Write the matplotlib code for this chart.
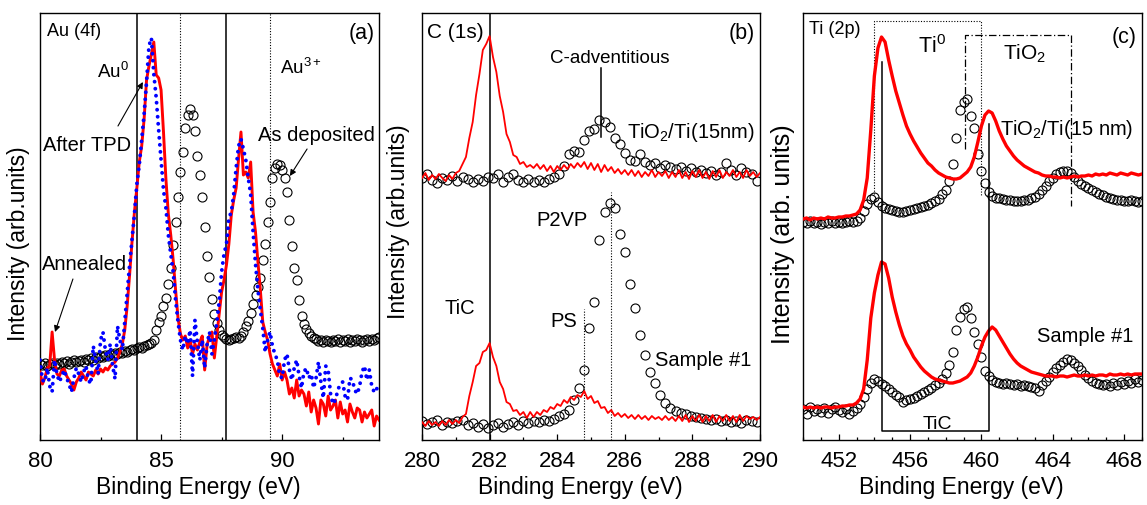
import numpy as np
import matplotlib
matplotlib.use("Agg")
import matplotlib.pyplot as plt
from matplotlib.ticker import MultipleLocator

plt.rcParams["font.family"] = ["Liberation Sans", "DejaVu Sans"]
plt.rcParams["mathtext.fontset"] = "custom"
plt.rcParams["mathtext.rm"] = "Liberation Sans"
plt.rcParams["mathtext.it"] = "Liberation Sans:italic"
plt.rcParams["mathtext.bf"] = "Liberation Sans:bold"

RED, BLUE = "#ff0000", "#0000ff"

# ---------------------------------------------------------------
# (a) Au 4f  -- 80.0 .. 94.0 eV, 0.1 eV step
# ---------------------------------------------------------------
AU_E0, AU_STEP = 80.0, 0.1
au_annealed = [
    68, 56, 62, 72, 74, 108, 80, 66, 64, 70,
    71, 64, 60, 56, 50, 58, 62, 68, 64, 60,
    68, 66, 64, 70, 66, 71, 68, 72, 70, 74,
    76, 78, 82, 88, 96, 110, 134, 165, 198, 228,
    252, 278, 294, 321, 360, 374, 386, 398, 365, 362,
    350, 308, 261, 226, 205, 180, 150, 122, 106, 100,
    104, 92, 100, 86, 96, 90, 98, 104, 70, 95,
    104, 108, 82, 104, 126, 148, 160, 175, 196, 225,
    240, 252, 281, 308, 265, 268, 262, 278, 228, 208,
    178, 150, 118, 108, 100, 86, 76, 70, 64, 76,
    60, 68, 60, 46, 52, 42, 60, 44, 50, 46,
    34, 48, 28, 40, 32, 16, 40, 36, 24, 44,
    30, 34, 40, 22, 38, 26, 30, 18, 36, 28,
    22, 32, 30, 18, 28, 22, 26, 30, 14, 24,
    20]
au_after_tpd = [
    80, 60, 58, 72, 54, 48, 80, 66, 58, 64,
    70, 62, 56, 48, 62, 72, 66, 58, 68, 74,
    60, 56, 94, 80, 66, 100, 108, 90, 80, 96,
    74, 61, 114, 100, 90, 118, 145, 175, 200, 226,
    256, 275, 300, 326, 358, 394, 402, 366, 342, 310,
    280, 250, 232, 205, 186, 168, 140, 118, 100, 90,
    104, 96, 110, 64, 120, 98, 80, 100, 72, 96,
    108, 86, 100, 118, 138, 168, 186, 196, 222, 228,
    246, 272, 294, 301, 291, 280, 262, 246, 208, 176,
    150, 130, 112, 88, 100, 108, 94, 86, 80, 64,
    62, 80, 86, 70, 60, 72, 80, 64, 52, 68,
    72, 62, 66, 52, 62, 78, 58, 42, 74, 70,
    46, 36, 40, 50, 56, 58, 44, 40, 62, 60,
    50, 46, 54, 68, 74, 60, 70, 54, 48, 52,
    46]
au_as_deposited = [
    76, 75, 77, 74, 76, 77, 75, 77, 76, 78,
    77, 79, 76, 78, 80, 78, 79, 80, 78, 81,
    80, 82, 80, 83, 82, 84, 83, 85, 84, 86,
    85, 87, 86, 88, 87, 89, 88, 90, 91, 90,
    92, 93, 92, 94, 95, 96, 97, 100, 110, 118,
    124, 134, 142, 156, 172, 195, 218, 243, 268, 288,
    312, 325, 331, 325, 309, 284, 265, 243, 213, 184,
    163, 141, 126, 117, 110, 105, 103, 101, 100, 101,
    102, 103, 102, 104, 108, 114, 119, 127, 136, 145,
    153, 162, 180, 196, 218, 238, 262, 272, 276, 275,
    270, 262, 248, 220, 194, 172, 160, 140, 124, 116,
    111, 107, 104, 102, 101, 99, 100, 98, 100, 99,
    98, 100, 99, 101, 98, 100, 99, 101, 98, 100,
    99, 101, 100, 98, 100, 101, 99, 101, 100, 102,
    103]
au_solid_lines = [84.0, 87.7]
au_dotted_lines = [85.8, 89.5]

# ---------------------------------------------------------------
# (b) C 1s  -- 280 .. 290 eV; lines 0.1 eV, circles 0.15 eV
# ---------------------------------------------------------------
C_E0, C_LINE_STEP, C_CIRC_STEP = 280.0, 0.1, 0.15
c_tio2_line = [
    262, 267, 260, 265, 261, 266, 262, 259, 265, 261,
    267, 269, 276, 283, 302, 318, 345, 366, 390, 396,
    404, 383, 368, 344, 328, 306, 298, 285, 283, 276,
    278, 273, 275, 272, 276, 271, 275, 269, 274, 268,
    274, 270, 275, 271, 276, 272, 277, 273, 278, 271,
    277, 270, 276, 268, 275, 269, 273, 267, 271, 266,
    270, 265, 270, 264, 269, 263, 268, 264, 270, 263,
    268, 264, 269, 262, 268, 263, 270, 262, 268, 261,
    269, 263, 270, 262, 268, 261, 269, 263, 270, 262,
    268, 264, 270, 263, 268, 262, 270, 264, 268, 263,
    267]
c_tio2_circ = [
    262, 266, 260, 257, 262, 260, 264, 259, 263, 261,
    258, 261, 259, 263, 262, 266, 258, 263, 266, 260,
    258, 261, 258, 260, 258, 261, 263, 266, 274, 286,
    289, 288, 300, 309, 311, 320, 318, 313, 302, 296,
    287, 280, 279, 286, 278, 275, 277, 272, 275, 273,
    271, 273, 269, 272, 268, 270, 267, 269, 265, 268,
    277, 270, 265, 272, 268, 266, 259]
c_sample_line = [
    18, 14, 19, 15, 18, 14, 19, 15, 20, 16,
    20, 17, 23, 26, 44, 58, 74, 77, 88, 90,
    97, 83, 74, 58, 51, 38, 36, 29, 30, 25,
    28, 22, 28, 23, 28, 25, 30, 28, 33, 31,
    36, 34, 40, 37, 43, 40, 45, 43, 49, 41,
    44, 37, 39, 32, 33, 27, 30, 24, 27, 23,
    26, 22, 25, 21, 25, 21, 24, 20, 24, 21,
    23, 20, 24, 20, 23, 19, 24, 19, 25, 18,
    24, 19, 25, 18, 24, 19, 25, 18, 24, 19,
    25, 19, 24, 18, 25, 19, 24, 21, 23, 20,
    23]
c_sample_circ = [
    19, 16, 18, 20, 15, 18, 17, 19, 20, 15,
    17, 13, 16, 12, 15, 17, 13, 16, 18, 15,
    19, 17, 19, 18, 20, 19, 21, 24, 26, 30,
    40, 52, 70, 112, 138, 200, 228, 237, 232, 206,
    188, 156, 132, 105, 85, 68, 57, 45, 37, 32,
    29, 27, 26, 24, 23, 22, 21, 20, 21, 19,
    20, 18, 19, 17, 20, 19, 18]

# ---------------------------------------------------------------
# (c) Ti 2p  -- 450 .. 469 eV, 0.2 eV step
# ---------------------------------------------------------------
TI_E0, TI_STEP = 450.0, 0.2
ti_tio2_line = [
    221, 222, 220, 222, 221, 222, 221, 223, 222, 222,
    223, 223, 224, 224, 225, 226, 230, 240, 262, 310,
    364, 392, 403, 398, 380, 364, 349, 337, 325, 314,
    306, 299, 293, 287, 282, 277, 274, 270, 267, 265,
    263, 262, 261, 261, 262, 265, 268, 273, 283, 298,
    314, 325, 329, 327, 319, 309, 301, 294, 289, 284,
    280, 277, 274, 272, 270, 268, 267, 265, 264, 264,
    263, 263, 262, 263, 262, 263, 264, 263, 264, 264,
    265, 264, 266, 265, 266, 265, 267, 266, 265, 267,
    266, 265, 267, 266, 265, 266]
ti_tio2_circ = [
    218, 217, 219, 217, 218, 216, 218, 217, 219, 217,
    218, 217, 218, 219, 218, 219, 222, 229, 236, 241,
    243, 238, 234, 232, 231, 230, 229, 228, 228, 229,
    230, 231, 232, 233, 234, 235, 237, 239, 241, 246,
    250, 259, 276, 302, 330, 338, 341, 324, 312, 286,
    269, 257, 248, 244, 242, 242, 241, 240, 240, 239,
    239, 239, 240, 240, 242, 243, 246, 250, 254, 259,
    262, 266, 268, 269, 269, 267, 263, 259, 256, 254,
    252, 250, 248, 246, 245, 243, 242, 241, 240, 240,
    239, 239, 240, 239, 238, 239]
ti_sample_line = [
    33, 32, 33, 32, 33, 32, 33, 33, 32, 33,
    33, 34, 34, 35, 35, 37, 41, 51, 80, 122,
    147, 165, 178, 176, 162, 143, 128, 115, 104, 96,
    90, 83, 78, 73, 69, 66, 63, 61, 60, 59,
    58, 57, 57, 58, 59, 61, 63, 67, 74, 83,
    94, 103, 109, 113, 110, 104, 98, 92, 86, 81,
    77, 74, 72, 70, 68, 67, 66, 65, 64, 64,
    64, 63, 64, 64, 63, 64, 65, 64, 64, 65,
    64, 65, 64, 65, 65, 64, 66, 65, 65, 66,
    65, 66, 65, 66, 66, 66]
ti_sample_circ = [
    31, 26, 33, 29, 31, 28, 32, 27, 31, 33,
    30, 28, 31, 26, 29, 32, 36, 43, 51, 57,
    61, 59, 56, 54, 51, 48, 45, 43, 38, 40,
    41, 42, 44, 46, 48, 50, 52, 55, 57, 61,
    67, 75, 88, 110, 123, 131, 133, 122, 108, 96,
    83, 69, 64, 60, 58, 57, 56, 57, 56, 55,
    56, 54, 55, 54, 53, 52, 49, 55, 59, 63,
    68, 72, 75, 78, 81, 80, 77, 74, 70, 65,
    62, 59, 57, 56, 55, 56, 54, 57, 55, 58,
    56, 59, 57, 61, 58, 60]

# guide boxes in (c): energies and heights of the drawn frames
ti0_box_e = [454.0, 460.0]
ti0_box_top, ti0_box_ends = 419, [246, 244]
tio2_box_e = [459.1, 465.0]
tio2_box_top, tio2_box_ends = 405, [291, 234]
tic_box_e = [454.4, 460.4]
tic_box_bottom, tic_box_ends = 9, [378, 316]

YMAX = 427


def energies(e0, step, vals):
    return e0 + step * np.arange(len(vals))


def circles(ax, x, y, ms=6.5):
    ax.plot(x, y, "o", mfc="none", mec="black", ms=ms, mew=0.8, zorder=2)


def style_axes(ax, xlim, major, minor, ylabel, lab_x, lab_y, ysize=16.5):
    ax.set_xlim(*xlim)
    ax.set_ylim(0, YMAX)
    ax.xaxis.set_major_locator(MultipleLocator(major))
    ax.xaxis.set_minor_locator(MultipleLocator(minor))
    ax.set_yticks([])
    ax.tick_params(axis="x", which="both", direction="in", labelsize=16, pad=7)
    ax.tick_params(axis="x", which="major", length=4.5, width=0.9)
    ax.tick_params(axis="x", which="minor", length=2.5, width=0.9)
    for s in ax.spines.values():
        s.set_linewidth(1.0)
    ax.set_xlabel("Binding Energy (eV)", fontsize=16.5)
    ax.xaxis.set_label_coords(0.4675, -0.083)
    ax.set_ylabel(ylabel, fontsize=ysize)
    ax.yaxis.set_label_coords(lab_x, lab_y)


fig = plt.figure(figsize=(11.47, 5.06), dpi=100)
W, H = 1147, 506
ax_a = fig.add_axes([40 / W, 65 / H, 339 / W, 427 / H])
ax_b = fig.add_axes([422 / W, 65 / H, 338 / W, 427 / H])
ax_c = fig.add_axes([803 / W, 65 / H, 339 / W, 427 / H])

TXT = 14.5

# ---------------- (a) ----------------
ax = ax_a
xa = energies(AU_E0, AU_STEP, au_as_deposited)
for e in au_solid_lines:
    ax.axvline(e, color="black", lw=1.1, zorder=1)
for e in au_dotted_lines:
    ax.axvline(e, color="black", lw=0.8, ls=(0, (1, 1.5)), zorder=1)
circles(ax, xa, au_as_deposited, ms=6.5)
ax.plot(energies(AU_E0, AU_STEP, au_annealed), au_annealed, color=RED, lw=2.1, zorder=3)
ax.plot(energies(AU_E0, AU_STEP, au_after_tpd), au_after_tpd, color=BLUE, lw=2.8,
        ls=(0, (0.01, 1.8)), dash_capstyle="round", zorder=4)
style_axes(ax, (80, 94), 5, 2.5, "Intensity (arb.units)", -0.029, 0.461)
ax.text(80.29, 409, "Au (4f)", fontsize=13, va="center")
ax.text(93.83, 408, "(a)", fontsize=15.5, va="center", ha="right")
ax.text(82.35, 363, r"Au$^\mathregular{0}$", fontsize=13.5)
ax.text(89.91, 367, r"Au$^\mathregular{3+}$", fontsize=13.5)
arrow = dict(arrowstyle="-|>", color="black", lw=0.8, mutation_scale=9, shrinkA=0, shrinkB=0)
ax.annotate("", xy=(84.25, 358), xytext=(83.22, 314), arrowprops=arrow)
ax.text(80.12, 290, "After TPD", fontsize=TXT)
ax.annotate("", xy=(90.32, 264), xytext=(91.03, 291), arrowprops=arrow)
ax.text(89.0, 300, "As deposited", fontsize=TXT)
ax.annotate("", xy=(80.62, 108), xytext=(81.36, 161), arrowprops=arrow)
ax.text(80.08, 171, "Annealed", fontsize=TXT)

# ---------------- (b) ----------------
ax = ax_b
ax.axvline(282.0, color="black", lw=1.1, zorder=1)
ax.plot([284.8, 284.8], [0, 131], color="black", lw=0.8, ls=(0, (1, 1.5)), zorder=1)
ax.plot([285.6, 285.6], [0, 248], color="black", lw=0.8, ls=(0, (1, 1.5)), zorder=1)
ax.plot([285.3, 285.3], [303, 372], color="black", lw=1.1, zorder=5)
circles(ax, energies(C_E0, C_CIRC_STEP, c_tio2_circ), c_tio2_circ)
circles(ax, energies(C_E0, C_CIRC_STEP, c_sample_circ), c_sample_circ)
ax.plot(energies(C_E0, C_LINE_STEP, c_tio2_line), c_tio2_line, color=RED, lw=1.3, zorder=3)
ax.plot(energies(C_E0, C_LINE_STEP, c_sample_line), c_sample_line, color=RED, lw=1.3, zorder=3)
style_axes(ax, (280, 290), 2, 1, "Intensity (arb.units)", -0.036, 0.513)
ax.text(280.15, 408, "C (1s)", fontsize=15, va="center")
ax.text(289.85, 408, "(b)", fontsize=15.5, va="center", ha="right")
ax.text(285.56, 378, "C-adventitious", fontsize=13.5, ha="center")
ax.text(286.06, 303, r"TiO$_\mathregular{2}$/Ti(15nm)", fontsize=TXT)
ax.text(283.39, 215, "P2VP", fontsize=TXT)
ax.text(280.68, 127, "TiC", fontsize=TXT)
ax.text(283.79, 114, "PS", fontsize=TXT)
ax.text(286.89, 75, "Sample #1", fontsize=TXT)

# ---------------- (c) ----------------
ax = ax_c
dot = dict(color="black", lw=0.8, ls=(0, (1, 1.5)), zorder=1)
ax.plot([ti0_box_e[0], ti0_box_e[0], ti0_box_e[1], ti0_box_e[1]],
        [ti0_box_ends[0], ti0_box_top, ti0_box_top, ti0_box_ends[1]], **dot)
ax.plot([tio2_box_e[0], tio2_box_e[0], tio2_box_e[1], tio2_box_e[1]],
        [tio2_box_ends[0], tio2_box_top, tio2_box_top, tio2_box_ends[1]],
        color="black", lw=0.9, ls=(0, (6, 2, 1, 2)), zorder=1)
ax.plot([tic_box_e[0], tic_box_e[0], tic_box_e[1], tic_box_e[1]],
        [tic_box_ends[0], tic_box_bottom, tic_box_bottom, tic_box_ends[1]],
        color="black", lw=1.1, zorder=5)
circles(ax, energies(TI_E0, TI_STEP, ti_tio2_circ), ti_tio2_circ)
circles(ax, energies(TI_E0, TI_STEP, ti_sample_circ), ti_sample_circ)
ax.plot(energies(TI_E0, TI_STEP, ti_tio2_line), ti_tio2_line, color=RED, lw=2.4, zorder=3)
ax.plot(energies(TI_E0, TI_STEP, ti_sample_line), ti_sample_line, color=RED, lw=2.4, zorder=3)
style_axes(ax, (450, 469), 4, 1, "Intensity (arb. units)", -0.024, 0.485, ysize=18)
ax.text(450.34, 412, "Ti (2p)", fontsize=13, va="center")
ax.text(468.72, 404, "(c)", fontsize=15.5, va="center", ha="right")
ax.text(456.45, 388, r"Ti$^\mathregular{0}$", fontsize=15.5)
ax.text(461.21, 381, r"TiO$_\mathregular{2}$", fontsize=15)
ax.text(461.04, 306, r"TiO$_\mathregular{2}$/Ti(15 nm)", fontsize=TXT)
ax.text(463.12, 99, "Sample #1", fontsize=TXT)
ax.text(457.51, 12, "TiC", fontsize=14, ha="center")

fig.savefig("out.png", dpi=100)
